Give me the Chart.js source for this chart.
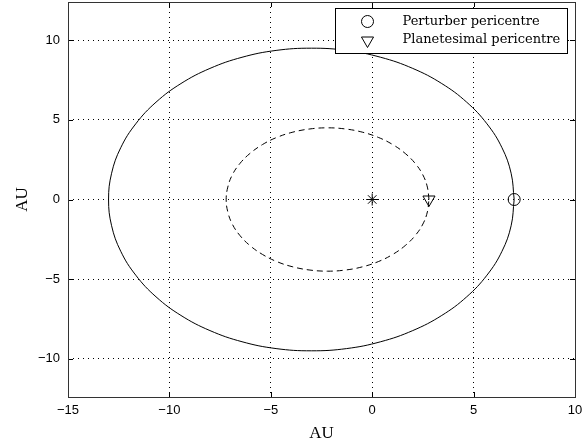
<!DOCTYPE html>
<html>
<head>
<meta charset="utf-8">
<script src="https://cdn.jsdelivr.net/npm/chart.js@4/dist/chart.umd.min.js"></script>
<style>
  html, body { margin: 0; padding: 0; background: #fff; }
  #wrap { width: 587px; height: 444px; }
</style>
</head>
<body>
<div id="wrap"><canvas id="chart" width="587" height="444"></canvas></div>
<script>
// perturber orbit (solid), every 10 degrees
const outerX = [7, 6.85, 6.40, 5.66, 4.66, 3.43, 2, 0.42, -1.26, -3, -4.74, -6.42, -8, -9.43, -10.66, -11.66, -12.40, -12.85, -13,
                -12.85, -12.40, -11.66, -10.66, -9.43, -8, -6.42, -4.74, -3, -1.26, 0.42, 2, 3.43, 4.66, 5.66, 6.40, 6.85, 7];
const outerY = [0, 1.65, 3.25, 4.75, 6.11, 7.28, 8.23, 8.93, 9.36, 9.5, 9.36, 8.93, 8.23, 7.28, 6.11, 4.75, 3.25, 1.65, 0,
                -1.65, -3.25, -4.75, -6.11, -7.28, -8.23, -8.93, -9.36, -9.5, -9.36, -8.93, -8.23, -7.28, -6.11, -4.75, -3.25, -1.65, 0];
// planetesimal orbit (dashed)
const innerX = [2.8, 2.72, 2.50, 2.13, 1.63, 1.01, 0.3, -0.49, -1.33, -2.2, -3.07, -3.91, -4.7, -5.41, -6.03, -6.53, -6.90, -7.12, -7.2,
                -7.12, -6.90, -6.53, -6.03, -5.41, -4.7, -3.91, -3.07, -2.2, -1.33, -0.49, 0.3, 1.01, 1.63, 2.13, 2.50, 2.72, 2.8];
const innerY = [0, 0.78, 1.54, 2.25, 2.89, 3.45, 3.90, 4.23, 4.43, 4.5, 4.43, 4.23, 3.90, 3.45, 2.89, 2.25, 1.54, 0.78, 0,
                -0.78, -1.54, -2.25, -2.89, -3.45, -3.90, -4.23, -4.43, -4.5, -4.43, -4.23, -3.90, -3.45, -2.89, -2.25, -1.54, -0.78, 0];
// markers
const starPos = [0, 0];
const perturberPeri = [7, 0];
const planetesimalPeri = [2.8, 0];
const legendLabels = ['Perturber pericentre', 'Planetesimal pericentre'];
const xTicks = [-15, -10, -5, 0, 5, 10];
const yTicks = [-10, -5, 0, 5, 10];

const toPts = (xs, ys) => xs.map((x, i) => ({ x: x, y: ys[i] }));
const fmt = v => (v < 0 ? '\u2212' + Math.abs(v) : String(v));

// box, inward tick marks and the framed legend
const framePlugin = {
  id: 'frame',
  afterDatasetsDraw(chart) {
    const { ctx, chartArea: a, scales } = chart;
    ctx.save();
    ctx.strokeStyle = '#000';
    ctx.lineWidth = 1;
    ctx.setLineDash([]);
    ctx.beginPath();
    xTicks.forEach(t => {
      const px = Math.round(scales.x.getPixelForValue(t)) + 0.5;
      ctx.moveTo(px, a.bottom); ctx.lineTo(px, a.bottom - 5);
      ctx.moveTo(px, a.top); ctx.lineTo(px, a.top + 5);
    });
    yTicks.forEach(t => {
      const py = Math.round(scales.y.getPixelForValue(t)) + 0.5;
      ctx.moveTo(a.left, py); ctx.lineTo(a.left + 5, py);
      ctx.moveTo(a.right, py); ctx.lineTo(a.right - 5, py);
    });
    ctx.stroke();
    ctx.strokeStyle = '#333';
    ctx.strokeRect(Math.round(a.left) + 0.5, Math.round(a.top) + 0.5,
                   Math.round(a.right - a.left), Math.round(a.bottom - a.top));

    // legend
    const lx = 335.5, ly = 8.5, lw = 232, lh = 45;
    ctx.fillStyle = '#fff';
    ctx.fillRect(lx, ly, lw, lh);
    ctx.strokeStyle = '#000';
    ctx.strokeRect(lx, ly, lw, lh);
    const styles = [
      { pointStyle: 'circle', radius: 6, rotation: 0 },
      { pointStyle: 'triangle', radius: 7, rotation: 180 }
    ];
    ctx.font = '13px "DejaVu Serif", serif';
    ctx.textBaseline = 'middle';
    legendLabels.forEach((lab, i) => {
      const cy = ly + 13 + i * 18;
      ctx.strokeStyle = '#000';
      ctx.fillStyle = 'rgba(0,0,0,0)';
      ctx.lineWidth = 1;
      Chart.helpers.drawPoint(ctx, {
        pointStyle: styles[i].pointStyle, radius: styles[i].radius,
        rotation: styles[i].rotation, borderWidth: 1
      }, lx + 32, cy + (i === 1 ? 1 : 0));
      ctx.fillStyle = '#000';
      ctx.fillText(lab, lx + 67, cy);
    });
    ctx.restore();
  }
};

const tickFont = { family: '"Liberation Sans", Arial, sans-serif', size: 13 };
const titleFont = { family: '"Liberation Serif", serif', size: 17 };

new Chart(document.getElementById('chart'), {
  type: 'scatter',
  data: {
    datasets: [
      {
        data: toPts(outerX, outerY), showLine: true, tension: 0.4,
        borderColor: '#000', borderWidth: 1, pointRadius: 0
      },
      {
        data: toPts(innerX, innerY), showLine: true, tension: 0.4,
        borderColor: '#000', borderWidth: 1, borderDash: [6, 4], pointRadius: 0
      },
      {
        data: [{ x: starPos[0], y: starPos[1] }], pointStyle: 'star', pointRadius: 6,
        borderColor: '#000', backgroundColor: 'rgba(0,0,0,0)', borderWidth: 1
      },
      {
        data: [{ x: planetesimalPeri[0], y: planetesimalPeri[1] }], pointStyle: 'triangle',
        rotation: 180, pointRadius: 7, borderColor: '#000', backgroundColor: 'rgba(0,0,0,0)', borderWidth: 1
      },
      {
        data: [{ x: perturberPeri[0], y: perturberPeri[1] }], pointStyle: 'circle',
        pointRadius: 6, borderColor: '#000', backgroundColor: 'rgba(0,0,0,0)', borderWidth: 1
      }
    ]
  },
  options: {
    responsive: false,
    animation: false,
    layout: { autoPadding: false, padding: { top: 2, right: 12, left: 0, bottom: 0 } },
    plugins: { legend: { display: false }, tooltip: { enabled: false } },
    scales: {
      x: {
        type: 'linear', min: -15, max: 10,
        afterBuildTicks: s => { s.ticks = xTicks.map(v => ({ value: v })); },
        afterFit: s => { s.height = 47; s.paddingLeft = 0; s.paddingRight = 0; },
        border: { display: false, dash: [1, 4] },
        grid: { color: '#000', lineWidth: 1, drawTicks: false },
        ticks: { color: '#000', font: tickFont, padding: 6, maxRotation: 0, callback: fmt },
        title: { display: true, text: 'AU', color: '#000', font: titleFont, padding: { top: 0, bottom: 0 } }
      },
      y: {
        type: 'linear', min: -12.4, max: 12.4,
        afterBuildTicks: s => { s.ticks = yTicks.map(v => ({ value: v })); },
        afterFit: s => { s.width = 68; s.paddingTop = 0; s.paddingBottom = 0; },
        border: { display: false, dash: [1, 4] },
        grid: { color: '#000', lineWidth: 1, drawTicks: false },
        ticks: { color: '#000', font: tickFont, padding: 8, callback: fmt },
        title: { display: true, text: 'AU', color: '#000', font: titleFont, padding: { top: 12, bottom: 4 } }
      }
    }
  },
  plugins: [framePlugin]
});
</script>
</body>
</html>
